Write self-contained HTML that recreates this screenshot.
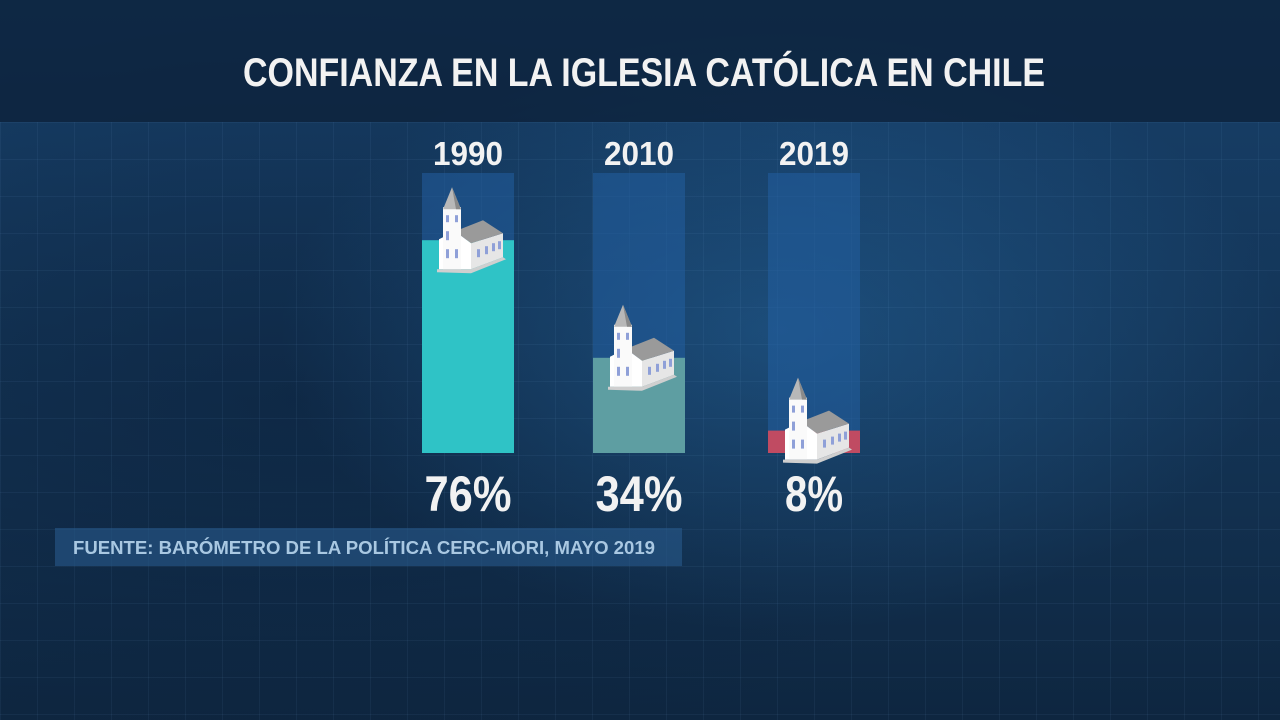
<!DOCTYPE html>
<html><head><meta charset="utf-8"><style>
html,body{margin:0;padding:0}
body{width:1280px;height:720px;overflow:hidden;background:#143252;font-family:"Liberation Sans",sans-serif;}
#bg{position:absolute;left:0;top:0;width:1280px;height:720px;
background:
radial-gradient(ellipse 500px 300px at 780px 330px,rgba(40,110,170,.45),transparent),
radial-gradient(ellipse 700px 400px at 300px 400px,rgba(10,30,55,.5),transparent),
linear-gradient(#17406a,#12304f 70%,#0e2640);}
#grid{position:absolute;left:0;top:122px;width:1280px;height:598px;
background-image:linear-gradient(rgba(120,170,220,.07) 1px,transparent 1px),linear-gradient(90deg,rgba(120,170,220,.07) 1px,transparent 1px);background-size:37px 37px;}
#header{position:absolute;left:0;top:0;width:1280px;height:122px;background:rgba(12,32,56,.75);}
#source{position:absolute;left:55px;top:528px;width:627px;height:38px;background:rgba(40,90,140,.6);}
</style></head><body>
<div id="bg"></div>
<div id="grid"></div>
<div id="header"></div>
<div id="source"></div>
<svg id="chart" width="1280" height="720" style="position:absolute;left:0;top:0">
<defs>
<g id="church">
 <polygon points="36,56 68,46 68,70 36,82" fill="#e6e6e6"/>
 <polygon points="20,44 48,33 68,46 36,56" fill="#9a9a9a"/>
 <polygon points="4,52 20,44 36,56 36,82 4,82" fill="#ffffff"/>
 <polygon points="8,20 26,20 26,82 8,82" fill="#fafafa"/>
 <polygon points="17,0 8,22 26,22" fill="#b8b8b8"/>
 <polygon points="17,0 26,22 21,22" fill="#8a8a8a"/>
 <rect x="11" y="28" width="3" height="7" fill="#8fa0d8"/><rect x="20" y="28" width="3" height="7" fill="#8fa0d8"/>
 <rect x="11" y="44" width="3" height="9" fill="#8fa0d8"/><rect x="11" y="62" width="3" height="9" fill="#8fa0d8"/><rect x="20" y="62" width="3" height="9" fill="#8fa0d8"/>
 <rect x="42" y="62" width="3" height="8" fill="#8fa0d8"/><rect x="50" y="59" width="3" height="8" fill="#8fa0d8"/><rect x="57" y="56" width="3" height="8" fill="#8fa0d8"/><rect x="63" y="54" width="3" height="8" fill="#8fa0d8"/>
 <polygon points="2,82 36,82 68,70 71,72 36,86 2,85" fill="#cfcfcf"/>
</g>
</defs>
<text x="243" y="86" textLength="802" lengthAdjust="spacingAndGlyphs" fill="#f2f2f2" font-size="40" font-weight="bold">CONFIANZA EN LA IGLESIA CATÓLICA EN CHILE</text>
<text x="73" y="554" textLength="582" lengthAdjust="spacingAndGlyphs" fill="#a9c8e2" font-size="18" font-weight="bold">FUENTE: BARÓMETRO DE LA POLÍTICA CERC-MORI, MAYO 2019</text>
</svg>
<script>
const years=["1990","2010","2019"];
const values=[76,34,8];
const labels=["76%","34%","8%"];
const colors=["#2fc3c6","#5e9ea2","#c04b62"];
const NS="http://www.w3.org/2000/svg";
const svg=document.getElementById('chart');
const barLefts=[422,593,768], barW=92, yTop=173, yBot=453;
function y(v){return yBot-(yBot-yTop)*v/100;}
years.forEach((yr,i)=>{
 const x=barLefts[i], cx=x+barW/2;
 const track=document.createElementNS(NS,'rect');
 track.setAttribute('x',x);track.setAttribute('y',y(100));track.setAttribute('width',barW);track.setAttribute('height',y(0)-y(100));track.setAttribute('fill','rgba(35,95,160,.55)');
 
 
 svg.appendChild(track);
 const bar=document.createElementNS(NS,'rect');
 bar.setAttribute('x',x);bar.setAttribute('y',y(values[i]));bar.setAttribute('width',barW);bar.setAttribute('height',y(0)-y(values[i]));bar.setAttribute('fill',colors[i]);
 
 
 svg.appendChild(bar);
 const ch=document.createElementNS(NS,'use');
 ch.setAttribute('href','#church');
 ch.setAttribute('transform','translate('+(x+13)+','+(y(values[i])-53)+')');
 
 
 svg.appendChild(ch);
 const t=document.createElementNS(NS,'text');
 t.setAttribute('x',cx-35);t.setAttribute('y',165);t.setAttribute('textLength',70);t.setAttribute('lengthAdjust','spacingAndGlyphs');t.setAttribute('fill','#f2f2f2');t.setAttribute('font-size','33');t.setAttribute('font-weight','bold');
 t.textContent=yr;
 
 
 svg.appendChild(t);
 const v=document.createElementNS(NS,'text');
 const w=labels[i].length*29;
 v.setAttribute('x',cx-w/2);v.setAttribute('y',511);v.setAttribute('textLength',w);v.setAttribute('lengthAdjust','spacingAndGlyphs');v.setAttribute('fill','#f2f2f2');v.setAttribute('font-size','50');v.setAttribute('font-weight','bold');
 v.textContent=labels[i];
 
 
 svg.appendChild(v);
});
</script>
</body></html>
